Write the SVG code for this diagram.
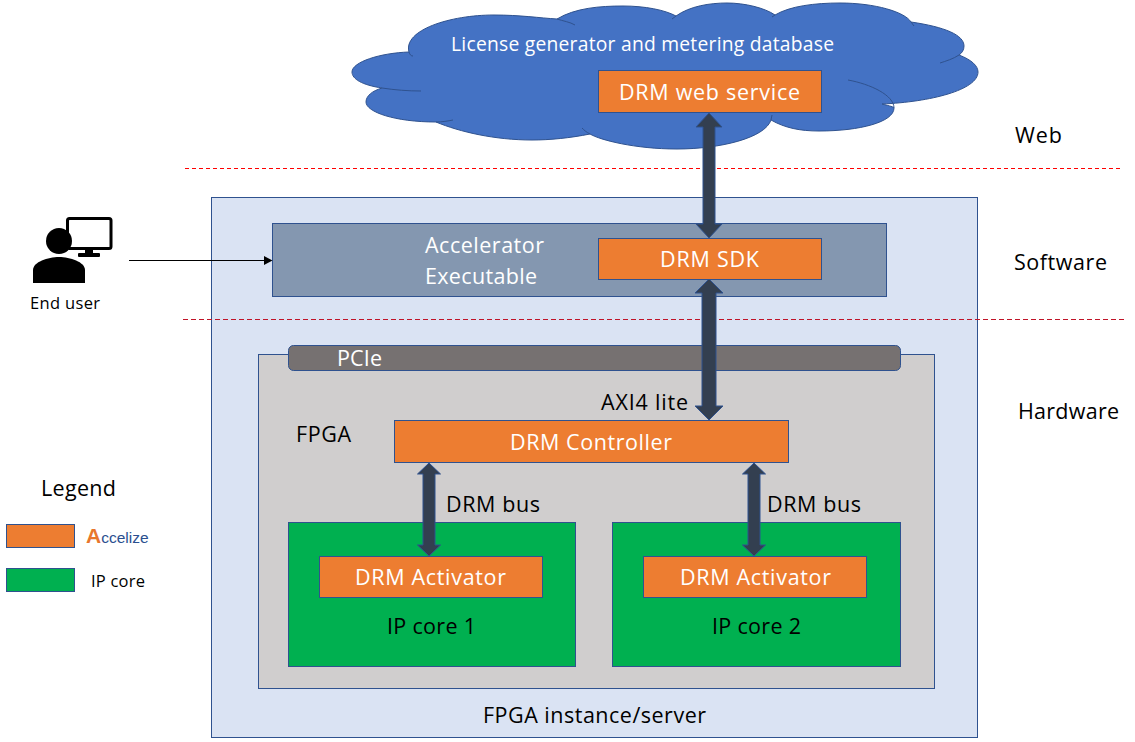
<svg xmlns="http://www.w3.org/2000/svg" width="1135" height="742" viewBox="0 0 1135 742">
<style>
text{font-family:"Open Sans","Noto Sans","Liberation Sans",sans-serif;font-size:21.5px;fill:#000}
.w{fill:#fff}
.s{font-size:16.5px}
.b{stroke:#2F528F;stroke-width:1}
.o{fill:#ED7D31}
.g{fill:#00B050}
.ar{fill:#333F50;stroke:#2F528F;stroke-width:1}
.in{fill:none;stroke:#2F528F;stroke-width:1}
</style>
<rect width="1135" height="742" fill="#fff"/>
<g id="cloud">
<path class="b" fill="#4472C4" d="M409,52 C403,30 450,15 494,15 C520,15 540,18 557,19 C575,8 600,6 623,6 C645,6 665,10 676,16 C690,6 710,3 727,3 C745,3 765,8 775,15 C790,6 815,3 840,3 C875,3 905,12 911,22 C945,27 964,35 964,46 C964,50 962,53 959,55 C972,60 978,66 978,72 C978,90 930,102 882,104 C890,106 894,107 894,108 C894,122 860,131 819,131 C800,131 785,128 771,120 C765,138 720,149 677,149 C635,149 600,140 590,134 C570,138 550,140 532,140 C495,140 460,132 436,122 C395,122 366,112 366,102 C366,96 372,91 382,88 C362,85 352,79 352,72 C352,62 380,53 409,52 Z"/>
<path class="in" d="M409,52 C410,55 411,56 413,56 M557,19 C563,21 570,22 575,25 M676,16 L672,19 M775,15 L772,17 M911,22 L914,26 M959,55 C953,59 946,61 940,63 M848,80 C870,84 894,95 894,108 M771,120 L772,115 M590,134 C586,132 584,130 582,128 M436,122 C442,122 448,121 453,120 M382,88 C395,90 408,91 421,91"/>
<text class="w" x="451" y="51" style="font-size:19.3px" textLength="383">License generator and metering database</text>
</g>
<g id="web-service"><rect class="b o" x="598.5" y="70.5" width="223" height="42"/><text class="w" x="619" y="100" textLength="181">DRM web service</text></g>
<g id="server"><rect class="b" fill="#DAE3F3" x="211.5" y="197.5" width="766" height="540"/><text x="483" y="723" textLength="223">FPGA instance/server</text></g>
<g id="accelerator"><rect class="b" fill="#8497B0" x="272.5" y="223.5" width="614" height="73"/><text class="w" x="425" y="253" textLength="119">Accelerator</text><text class="w" x="425" y="284" textLength="112">Executable</text></g>
<g id="sdk"><rect class="b o" x="598.5" y="238.5" width="223" height="41"/><text class="w" x="660" y="267" textLength="99">DRM SDK</text></g>
<g id="fpga"><rect class="b" fill="#D0CECE" x="258.5" y="354.5" width="676" height="334"/><text x="296" y="442" textLength="55">FPGA</text><text x="601" y="410" textLength="87">AXI4 lite</text></g>
<g id="pcie"><rect class="b" fill="#767171" x="288.5" y="345.5" width="612" height="25" rx="5"/><text class="w" x="337" y="366" textLength="45">PCIe</text></g>
<g id="controller"><rect class="b o" x="394.5" y="420.5" width="394" height="42"/><text class="w" x="510" y="450" textLength="162">DRM Controller</text></g>
<g id="ip1"><rect class="b g" x="288.5" y="522.5" width="287" height="144"/><text x="387" y="634" textLength="89">IP core 1</text></g>
<g id="ip2"><rect class="b g" x="612.5" y="522.5" width="288" height="144"/><text x="712" y="634" textLength="89">IP core 2</text></g>
<g id="act1"><rect class="b o" x="319.5" y="556.5" width="223" height="41"/><text class="w" x="355" y="585" textLength="151">DRM Activator</text></g>
<g id="act2"><rect class="b o" x="643.5" y="556.5" width="223" height="41"/><text class="w" x="680" y="585" textLength="151">DRM Activator</text></g>
<g id="labels">
<text x="446" y="512" textLength="94">DRM bus</text><text x="767" y="512" textLength="94">DRM bus</text>
<text x="1015" y="143" textLength="47">Web</text><text x="1014" y="270" textLength="93">Software</text><text x="1018" y="419" textLength="101">Hardware</text>
</g>
<g id="connectors">
<line x1="185" y1="168.5" x2="1121" y2="168.5" stroke="#FF0000" stroke-width="1" stroke-dasharray="4 3"/>
<line x1="183" y1="319.5" x2="1126" y2="319.5" stroke="#C01428" stroke-width="1" stroke-dasharray="5 3"/>
<path class="ar" d="M709,113 L722,127 L715,127 L715,224 L722,224 L709,238 L696,224 L703,224 L703,127 L696,127 Z"/>
<path class="ar" d="M709,279 L723,293 L716,293 L716,406 L723,406 L709,420 L695,406 L702,406 L702,293 L695,293 Z"/>
<path class="ar" d="M429,463 L440.5,474 L435,474 L435,545 L440.5,545 L429,556 L417.5,545 L423,545 L423,474 L417.5,474 Z"/>
<path class="ar" d="M754,463 L765.5,474 L760,474 L760,545 L765.5,545 L754,556 L742.5,545 L748,545 L748,474 L742.5,474 Z"/>
<line x1="129" y1="260.5" x2="265" y2="260.5" stroke="#000" stroke-width="1"/>
<path d="M264,256 L272.5,260.5 L264,265 Z" fill="#000"/>
</g>
<g id="end-user">
<rect x="67.5" y="218.5" width="43.5" height="30" rx="2" fill="#fff" stroke="#000" stroke-width="3"/>
<rect x="85" y="249" width="8" height="5" fill="#000"/><rect x="78" y="253" width="22" height="4" rx="1" fill="#000"/>
<circle cx="59" cy="241" r="13" fill="#000"/>
<path d="M33,283 L33,270 C33,262 48,257 59,257 C70,257 85,262 85,270 L85,283 Z" fill="#000"/>
<text class="s" x="30" y="309" textLength="70">End user</text>
</g>
<g id="legend">
<text x="41" y="496" textLength="75">Legend</text>
<rect class="b o" x="6.5" y="524.5" width="68" height="23"/>
<rect class="b g" x="6.5" y="568.5" width="68" height="23"/>
<text x="86" y="543" style="font-family:'Liberation Sans',sans-serif;font-size:15.5px;fill:#2A4F8F"><tspan style="fill:#E8762D;font-size:21px;font-weight:700">A</tspan>ccelize</text>
<text class="s" x="91" y="587" textLength="54">IP core</text>
</g>
</svg>
